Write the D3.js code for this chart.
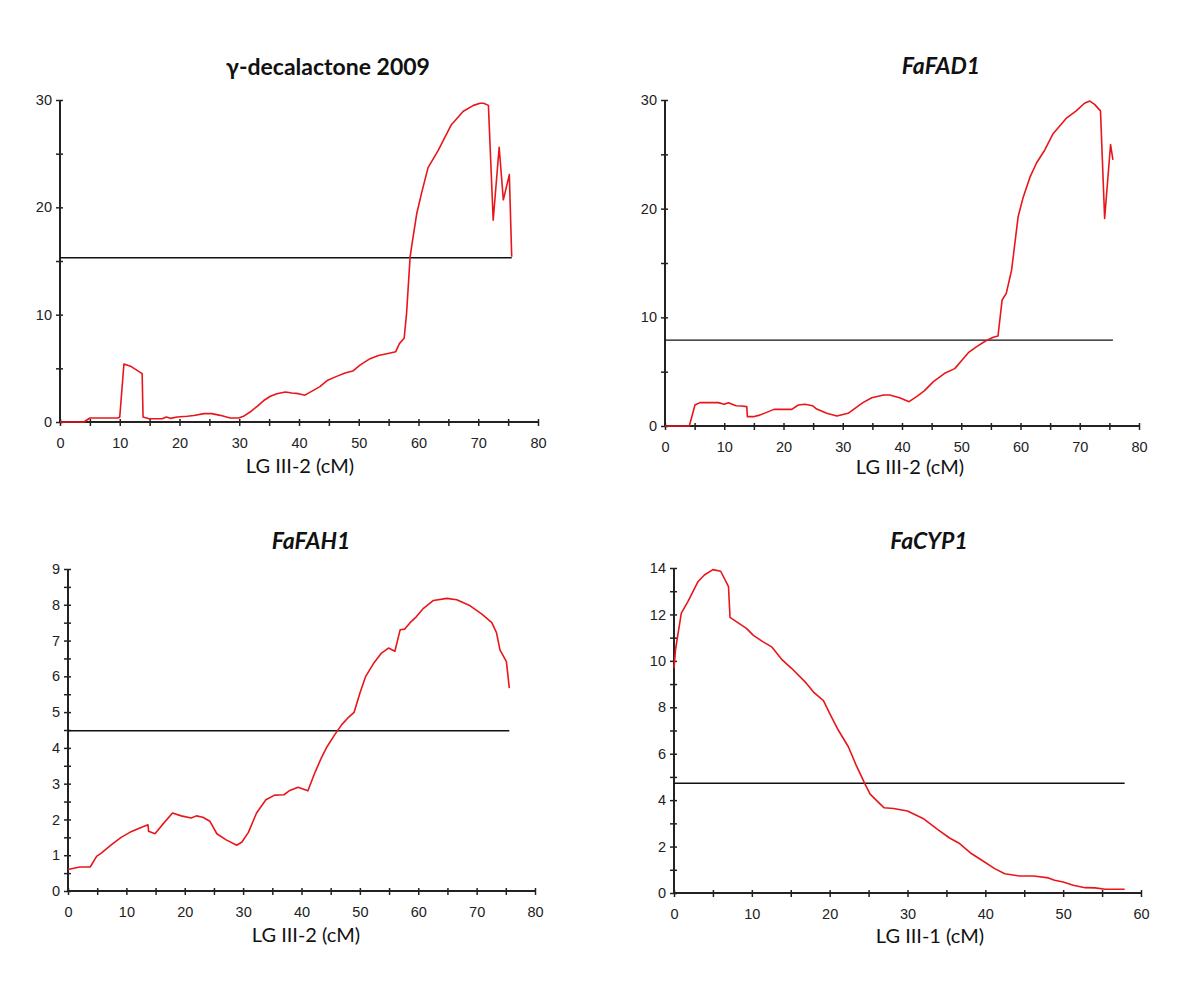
<!DOCTYPE html>
<html>
<head>
<meta charset="utf-8">
<script src="https://cdn.jsdelivr.net/npm/d3@7"></script>
<style>
  html, body { margin: 0; padding: 0; background: #fff; }
  svg { display: block; }
  .title { font-family: Lato, "Open Sans", sans-serif; font-weight: bold; font-size: 23px; fill: #111; }
  .xlabel { font-family: Lato, "Open Sans", sans-serif; font-size: 20px; fill: #111; }
</style>
</head>
<body>
<svg id="chart" width="1200" height="984"></svg>
<script>
// ---------- Data ----------
const titles = ["γ-decalactone 2009", "FaFAD1", "FaFAH1", "FaCYP1"];
const xLabels = ["LG III-2 (cM)", "LG III-2 (cM)", "LG III-2 (cM)", "LG III-1 (cM)"];
const thresholds = [15.3, 7.9, 4.48, 4.73];
const thresholdEnds = [75.6, 75.6, 75.6, 57.9];
const xMaxes = [80, 80, 80, 60];
const yMaxes = [30, 30, 9, 14];

const decalactonePos = [0,4.0,5.0,9.7,10.0,10.7,11.8,13.75,13.9,14.9,17.1,17.8,18.5,19.6,21.3,22.4,24.1,25.4,26.8,28.5,29.9,30.7,31.8,33.0,34.1,35.2,36.3,37.7,38.8,39.9,41.0,42.4,43.5,44.8,46.3,47.7,49.0,50.2,51.9,53.3,54.7,56.2,56.8,57.6,58.0,58.6,59.0,59.7,60.5,61.6,63.3,65.5,67.5,69.2,70.3,70.9,71.7,72.5,73.5,74.2,75.2,75.6];
const decalactoneLOD = [0,0,0.37,0.37,0.47,5.4,5.2,4.5,0.47,0.3,0.3,0.47,0.34,0.47,0.53,0.6,0.78,0.78,0.62,0.37,0.37,0.53,0.93,1.46,2.0,2.4,2.64,2.8,2.7,2.64,2.5,2.95,3.3,3.9,4.25,4.56,4.75,5.3,5.9,6.2,6.36,6.55,7.3,7.8,10.1,15.4,16.9,19.4,21.3,23.7,25.3,27.7,28.95,29.5,29.7,29.7,29.5,18.8,25.6,20.7,23.05,15.4];

const fad1Pos = [0,4.1,5.06,5.9,9.0,10.0,10.7,12.0,12.9,13.8,13.9,14.9,16.0,18.4,21.4,22.5,23.6,24.9,25.6,27.3,29.0,30.9,32.3,33.4,34.9,36.9,37.9,39.6,41.2,42.7,43.8,45.3,47.2,48.9,50.0,51.2,52.6,54.1,55.4,56.2,56.9,57.6,58.5,59.6,60.4,61.6,62.7,64.1,65.5,67.7,69.4,70.8,71.7,72.5,73.5,74.2,75.2,75.6];
const fad1LOD = [0,0,1.93,2.15,2.15,2.0,2.15,1.87,1.84,1.78,0.86,0.86,1.0,1.53,1.53,1.93,2.0,1.87,1.56,1.17,0.92,1.17,1.72,2.15,2.6,2.85,2.85,2.6,2.24,2.79,3.25,4.08,4.85,5.28,5.98,6.75,7.3,7.82,8.16,8.28,11.6,12.2,14.36,19.26,20.95,22.9,24.2,25.4,26.9,28.3,29.0,29.7,29.9,29.6,29.0,19.1,25.9,24.5];

const fah1Pos = [0,2.0,3.8,4.9,5.7,7.4,9.1,10.6,12.3,13.7,13.8,14.9,16.0,17.9,19.4,21.1,22.0,23.1,24.3,25.5,27.1,28.9,29.8,30.9,32.3,33.9,35.4,37.0,38.0,39.4,41.1,42.3,43.4,44.4,45.7,46.9,47.9,49.0,50.0,51.0,52.3,53.7,54.9,56.0,56.9,57.7,58.6,59.7,60.9,62.6,64.9,66.6,68.9,70.9,72.6,73.4,74.0,75.1,75.6];
const fah1LOD = [0.6,0.67,0.67,0.97,1.06,1.29,1.5,1.64,1.76,1.85,1.67,1.6,1.82,2.18,2.1,2.04,2.1,2.06,1.95,1.6,1.43,1.28,1.37,1.64,2.18,2.55,2.68,2.69,2.81,2.9,2.8,3.31,3.72,4.04,4.37,4.65,4.83,4.99,5.53,6.0,6.35,6.65,6.79,6.7,7.3,7.32,7.5,7.67,7.9,8.12,8.18,8.14,7.97,7.74,7.5,7.22,6.74,6.41,5.67];

const cyp1Pos = [0,0.2,0.94,1.8,3.1,3.9,5.0,6.0,7.0,7.2,8.2,9.3,10.2,11.4,12.6,13.9,15.1,17.0,18.0,19.2,20.0,21.1,22.4,23.4,24.5,25.2,26.4,27.0,28.2,30.0,32.0,33.9,35.4,36.7,38.2,39.7,41.2,42.5,44.4,46.2,48.1,48.9,50.0,51.3,52.8,54.1,55.4,57.9];
const cyp1LOD = [9.68,10.5,12.06,12.56,13.42,13.7,13.93,13.86,13.2,11.87,11.65,11.4,11.1,10.83,10.59,10.04,9.68,9.04,8.63,8.29,7.74,7.02,6.3,5.51,4.72,4.26,3.86,3.67,3.64,3.53,3.21,2.73,2.37,2.13,1.70,1.38,1.05,0.83,0.73,0.73,0.65,0.55,0.47,0.33,0.23,0.22,0.16,0.16];

const xTickLabels = [[0,10,20,30,40,50,60,70,80],[0,10,20,30,40,50,60,70,80],[0,10,20,30,40,50,60,70,80],[0,10,20,30,40,50,60]];
const yTickLabels = [[0,10,20,30],[0,10,20,30],[0,1,2,3,4,5,6,7,8,9],[0,2,4,6,8,10,12,14]];
const yMinorStep = [5, 5, 0.5, 1];

const positions = [decalactonePos, fad1Pos, fah1Pos, cyp1Pos];
const lods = [decalactoneLOD, fad1LOD, fah1LOD, cyp1LOD];

// ---------- Layout ----------
const panels = [
  {x0: 60,  x1: 538,  yTop: 100, yBot: 422, titleX: 328, titleY: 75,  labelX: 300, labelY: 473, italic: false},
  {x0: 665, x1: 1139, yTop: 100, yBot: 426, titleX: 941, titleY: 74,  labelX: 910, labelY: 474, italic: true},
  {x0: 68,  x1: 535,  yTop: 569, yBot: 891, titleX: 311, titleY: 549, labelX: 306, labelY: 942, italic: true},
  {x0: 674, x1: 1141, yTop: 568, yBot: 893, titleX: 929, titleY: 549, labelX: 930, labelY: 943, italic: true}
];

const svg = d3.select("#chart");
const tickFont = "'Liberation Sans', Arial, sans-serif";

panels.forEach((p, i) => {
  const x = d3.scaleLinear().domain([0, xMaxes[i]]).range([p.x0, p.x1]);
  const y = d3.scaleLinear().domain([0, yMaxes[i]]).range([p.yBot, p.yTop]);
  const g = svg.append("g");

  // x axis
  const xMinor = d3.range(0, xMaxes[i] + 0.001, 5);
  const xAx = g.append("g").attr("transform", `translate(0,${p.yBot})`)
    .call(d3.axisBottom(x).tickValues(xMinor).tickSize(4).tickPadding(10)
      .tickFormat(d => xTickLabels[i].includes(d) ? d : ""));
  xAx.attr("font-size", null).attr("font-family", null);
  xAx.select(".domain").attr("stroke", "#222").attr("stroke-width", 2).attr("d", `M${p.x0},0H${p.x1}`);
  xAx.selectAll(".tick line").attr("stroke", "#222").attr("stroke-width", 1.5).attr("y1", -3).attr("y2", 4);
  xAx.selectAll(".tick text").attr("dy", "0.85em")
    .style("font-family", tickFont).style("font-size", "14.5px").attr("fill", "#222");

  // y axis
  const yMinor = d3.range(0, yMaxes[i] + 0.001, yMinorStep[i]);
  const yAx = g.append("g").attr("transform", `translate(${p.x0},0)`)
    .call(d3.axisLeft(y).tickValues(yMinor).tickSize(4).tickPadding(4)
      .tickFormat(d => yTickLabels[i].includes(d) ? d : ""));
  yAx.attr("font-size", null).attr("font-family", null);
  yAx.select(".domain").attr("stroke", "#222").attr("stroke-width", 2).attr("d", `M0,${p.yBot}V${p.yTop}`);
  yAx.selectAll(".tick line").attr("stroke", "#222").attr("stroke-width", 1.5).attr("x1", 3).attr("x2", -4);
  yAx.selectAll(".tick text")
    .style("font-family", tickFont).style("font-size", "14.5px").attr("fill", "#222");

  // threshold line
  g.append("line")
    .attr("x1", x(0)).attr("x2", x(thresholdEnds[i]))
    .attr("y1", y(thresholds[i])).attr("y2", y(thresholds[i]))
    .attr("stroke", "#111").attr("stroke-width", 1.4);

  // LOD curve
  const pts = positions[i].map((v, k) => [v, lods[i][k]]);
  g.append("path").datum(pts)
    .attr("fill", "none").attr("stroke", "#e8161a").attr("stroke-width", 1.6)
    .attr("stroke-linejoin", "round")
    .attr("d", d3.line().x(d => x(d[0])).y(d => y(d[1])));

  // title
  g.append("text").attr("class", "title")
    .attr("x", p.titleX).attr("y", p.titleY).attr("text-anchor", "middle")
    .style("font-style", p.italic ? "italic" : "normal")
    .text(titles[i]);

  // x label
  g.append("text").attr("class", "xlabel")
    .attr("x", p.labelX).attr("y", p.labelY).attr("text-anchor", "middle")
    .text(xLabels[i]);
});
</script>
</body>
</html>
